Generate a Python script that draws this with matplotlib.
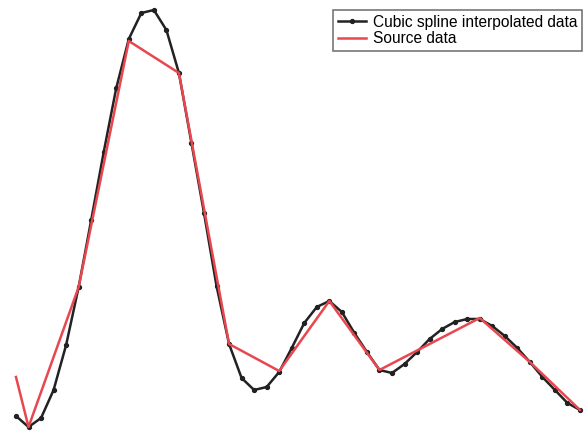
import matplotlib
matplotlib.use('Agg')
import matplotlib.pyplot as plt

# source samples
src_x = [-0.25, 0, 1, 2, 3, 4, 5, 6, 7, 8, 9, 10, 11]
src_y = [0.57, 0.07, 1.47, 3.93, 3.61, 0.90, 0.63, 1.33, 0.64, 0.90, 1.16, 0.72, 0.24]

spl_x = [-0.25 + 0.25 * k for k in range(46)]
spl_y = [0.18, 0.07, 0.16, 0.44, 0.89, 1.47, 2.14, 2.82, 3.46, 3.95,
         4.21, 4.24, 4.04, 3.61, 2.91, 2.21, 1.48, 0.90, 0.56, 0.44,
         0.47, 0.62, 0.86, 1.11, 1.27, 1.33, 1.22, 1.01, 0.82, 0.64,
         0.61, 0.70, 0.82, 0.95, 1.05, 1.12, 1.15, 1.15, 1.08, 0.98,
         0.86, 0.72, 0.57, 0.44, 0.31, 0.24]


def main():
    plt.rcParams['font.family'] = ['Liberation Sans', 'DejaVu Sans']
    fig = plt.figure(figsize=(5.84, 4.34), dpi=100)
    ax = fig.add_axes([0, 0, 1, 1])
    ax.plot(spl_x, spl_y, color='#222222', lw=1.8, marker='o', ms=2.8,
            label='Cubic spline interpolated data')
    ax.plot(src_x, src_y, color='#e8474f', lw=1.8,
            label='Source data')
    ax.set_xlim(-0.569, 11.08)
    ax.set_ylim(0, 4.34)
    ax.axis('off')
    leg = ax.legend(loc='upper left', bbox_to_anchor=(0.57, 0.977),
                    fontsize=11.2, fancybox=False, framealpha=1,
                    edgecolor='#777777', handlelength=1.8,
                    borderpad=0.3, labelspacing=0.1, handletextpad=0.5,
                    borderaxespad=0)
    leg.get_frame().set_linewidth(1.2)
    fig.savefig('out.png', dpi=100)


if __name__ == '__main__':
    main()
